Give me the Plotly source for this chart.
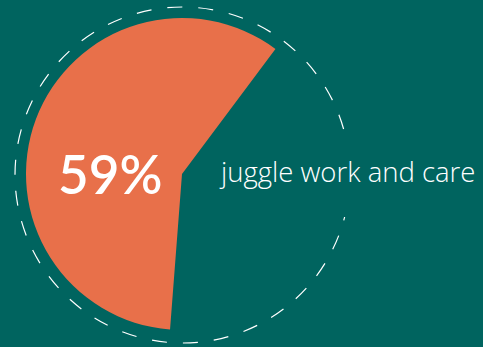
import plotly.graph_objects as go

# Share of respondents who juggle work and care
labels = ["juggle work and care", "other"]
values = [59, 41]
slice_colors = ["#E8704A", "rgba(0,0,0,0)"]
headline = "59%"
caption = "juggle work and care"

W, H = 483, 347
BG = "#00645F"

# Pie placement (pixels): centre and radius
cx, cy, r = 182, 174, 156

fig = go.Figure(
    go.Pie(
        labels=labels,
        values=values,
        marker=dict(colors=slice_colors, line=dict(width=0)),
        sort=False,
        direction="clockwise",
        rotation=184.4,
        textinfo="none",
        hoverinfo="skip",
        showlegend=False,
        domain=dict(
            x=[(cx - r) / W, (cx + r) / W],
            y=[(H - cy - r) / H, (H - cy + r) / H],
        ),
    )
)

# Dashed outline around the pie
fig.add_shape(
    type="circle",
    xref="paper", yref="paper",
    x0=15 / W, x1=350 / W,
    y0=(H - 343) / H, y1=(H - 7) / H,
    line=dict(color="white", width=1.2, dash="15px,16px"),
)
# Break in the outline behind the caption
fig.add_shape(
    type="rect",
    xref="paper", yref="paper",
    x0=330 / W, x1=362 / W,
    y0=(H - 217) / H, y1=(H - 132) / H,
    fillcolor=BG, line=dict(width=0),
)

fig.add_annotation(
    text=headline, xref="paper", yref="paper",
    x=110 / W, y=(H - 173) / H, xanchor="center", yanchor="middle",
    showarrow=False,
    font=dict(family="Lato", size=53, color="white", weight=600),
)
fig.add_annotation(
    text=caption, xref="paper", yref="paper",
    x=347 / W, y=(H - 171) / H, xanchor="center", yanchor="middle",
    showarrow=False,
    font=dict(family="Open Sans", size=27.5, color="white", weight=300),
)

fig.update_layout(
    width=W, height=H,
    margin=dict(l=0, r=0, t=0, b=0),
    paper_bgcolor=BG, plot_bgcolor=BG,
)

fig.write_html("out.html")
